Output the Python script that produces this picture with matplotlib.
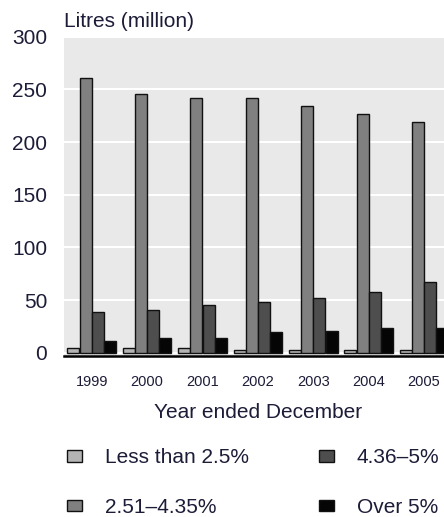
import matplotlib
matplotlib.use("Agg")
import matplotlib.pyplot as plt
import numpy as np

plt.rcParams['font.family'] = ['Liberation Sans', 'DejaVu Sans']

years = ['1999', '2000', '2001', '2002', '2003', '2004', '2005']
series_names = ['Less than 2.5%', '2.51–4.35%', '4.36–5%', 'Over 5%']
less_2_5 = [5, 5, 5, 3, 3, 3, 3]
s2_51_4_35 = [261, 246, 242, 242, 234, 227, 219]
s4_36_5 = [39, 41, 45, 48, 52, 58, 67]
over_5 = [11, 14, 14, 20, 21, 24, 24]
series = [less_2_5, s2_51_4_35, s4_36_5, over_5]
colors = ['#b4b4b4', '#808080', '#4e4e4e', '#050505']
yticks = [0, 50, 100, 150, 200, 250, 300]

W, H = 444, 517
fig = plt.figure(figsize=(W / 100, H / 100), dpi=100)
ax = fig.add_axes([64 / W, (H - 356) / H, 1 - 64 / W, (356 - 36.7) / H])
ax.set_facecolor('#e9e9e9')

x = np.arange(len(years))
bw = 0.215
offsets = [-0.33, -0.11, 0.11, 0.33]
handles = []
for vals, off, c, name in zip(series, offsets, colors, series_names):
    b = ax.bar(x + off, vals, width=bw, color=c, edgecolor='#111111', linewidth=1.0,
               label=name, zorder=3)
    handles.append(b)

ax.set_xlim(-0.5, 6.36)
ax.set_ylim(-3, 300)
ax.set_yticks(yticks)
ax.set_xticks(x)
ax.set_xticklabels(years)
ax.yaxis.grid(True, color='white', linewidth=1.5, zorder=0)
ax.set_axisbelow(True)
for s in ['top', 'right', 'left']:
    ax.spines[s].set_visible(False)
ax.spines['bottom'].set_color('black')
ax.spines['bottom'].set_linewidth(1.8)
ax.spines['bottom'].set_zorder(5)
txtc = '#1c1c38'
ax.tick_params(axis='y', length=0, pad=12, labelsize=15, labelcolor=txtc)
ax.tick_params(axis='x', length=0, pad=14, labelsize=10.5, labelcolor=txtc)

fig.text(64 / W, 1 - 27 / H, 'Litres (million)', fontsize=15, color=txtc,
         ha='left', va='baseline')
fig.text(258 / W, 1 - 412 / H, 'Year ended December', fontsize=15, color=txtc,
         ha='center', va='center')

leg = fig.legend(handles=handles, labels=series_names, ncol=2, loc='upper left',
                 bbox_to_anchor=(67 / W, 1 - 448 / H), frameon=False, fontsize=15,
                 handlelength=0.7, handleheight=0.5, handletextpad=1.1,
                 columnspacing=3.4, labelspacing=1.48, borderaxespad=0, borderpad=0)
for t in leg.get_texts():
    t.set_color(txtc)

fig.savefig('out.png', dpi=100)
